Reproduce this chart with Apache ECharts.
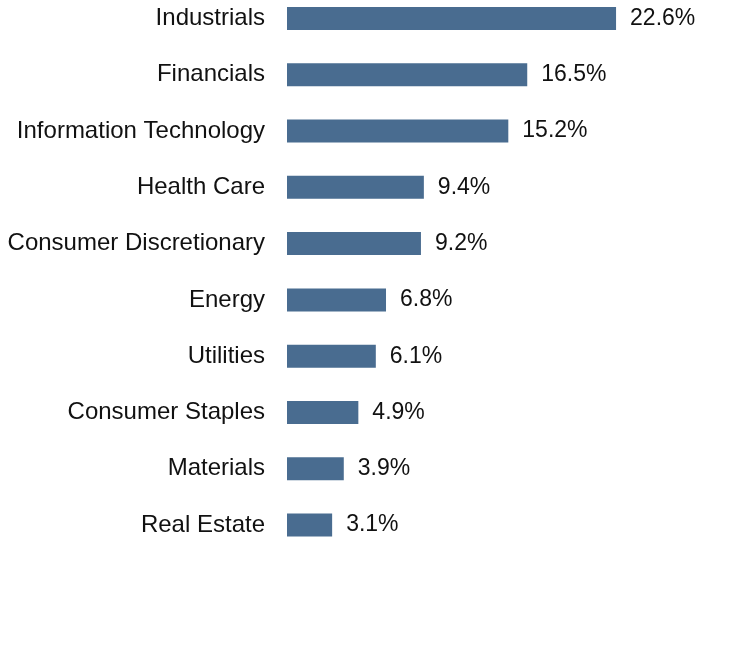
<!DOCTYPE html>
<html>
<head>
<meta charset="utf-8">
<script src="https://cdn.jsdelivr.net/npm/echarts@6/dist/echarts.min.js"></script>
<style>
  html, body { margin: 0; padding: 0; background: #fff; }
  #chart { width: 732px; height: 672px; }
</style>
</head>
<body>
<div id="chart"></div>
<script>
// Datos del gráfico
const sectores = [
  'Industrials', 'Financials', 'Information Technology', 'Health Care',
  'Consumer Discretionary', 'Energy', 'Utilities', 'Consumer Staples',
  'Materials', 'Real Estate'
];
const pesos = [22.6, 16.5, 15.2, 9.4, 9.2, 6.8, 6.1, 4.9, 3.9, 3.1];

const fuente = "'Liberation Sans', Arial, sans-serif";

const miGrafico = echarts.init(document.getElementById('chart'));

const opciones = {
  animation: false,
  grid: {
    left: 287,
    width: 364,
    top: 18.5,
    height: 506.5,
    containLabel: false
  },
  xAxis: {
    type: 'value',
    min: 0,
    max: 25,
    show: false
  },
  yAxis: {
    type: 'category',
    inverse: true,
    boundaryGap: false,
    data: sectores,
    axisLine: { show: false },
    axisTick: { show: false },
    splitLine: { show: false },
    axisLabel: {
      margin: 22,
      fontSize: 24,
      fontFamily: fuente,
      color: '#111'
    }
  },
  series: [
    {
      type: 'bar',
      data: pesos,
      barWidth: 23,
      itemStyle: { color: '#496c90' },
      label: {
        show: true,
        position: 'right',
        distance: 14,
        fontSize: 23,
        fontFamily: fuente,
        color: '#111',
        formatter: p => p.value.toFixed(1) + '%'
      }
    }
  ]
};

miGrafico.setOption(opciones);
</script>
</body>
</html>
